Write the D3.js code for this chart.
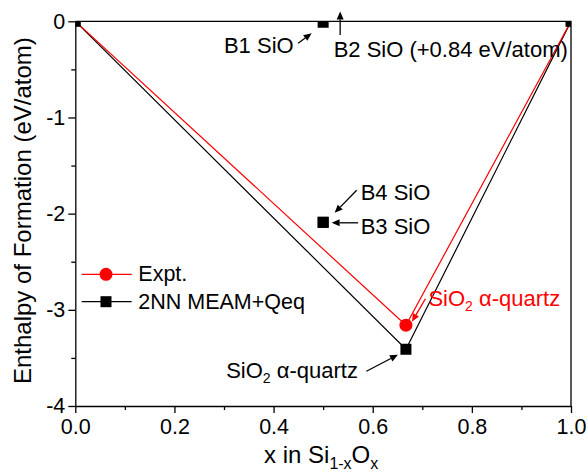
<!DOCTYPE html>
<html>
<head>
<meta charset="utf-8">
<script src="https://cdn.jsdelivr.net/npm/d3@7"></script>
<style>
  html, body { margin: 0; padding: 0; background: #fff; }
  svg { display: block; font-family: "Liberation Sans", Arial, sans-serif; }
</style>
</head>
<body>
<svg id="chart" width="588" height="474"></svg>
<script>
// ---------- data ----------
const seriesNames = ["Expt.", "2NN MEAM+Qeq"];
const exptX = [0, 0.667, 1];
const exptY = [0, -3.16, 0];
const meamX = [0, 0.667, 1];
const meamY = [0, -3.41, 0];
const phaseNames = ["B1 SiO", "B3 SiO", "B4 SiO"];
const phaseX = [0.5, 0.5, 0.5];
const phaseY = [-0.01, -2.09, -2.09];
const b2Label = "B2 SiO (+0.84 eV/atom)";
const xTicks = [0, 0.2, 0.4, 0.6, 0.8, 1.0];
const xMinor = [0.1, 0.3, 0.5, 0.7, 0.9];
const yTicks = [0, -1, -2, -3, -4];
const yMinor = [-0.5, -1.5, -2.5, -3.5];

// ---------- layout ----------
const L = 75.3, R = 571, T = 21.3, B = 406;
const svg = d3.select("#chart");
const x = d3.scaleLinear().domain([0, 1]).range([L, R]);
const y = d3.scaleLinear().domain([-4, 0]).range([B, T]);
const RED = "#ff0000";
const FS = 21.5;
const AFS = 22;

svg.append("defs").append("clipPath").attr("id", "clip")
  .append("rect").attr("x", L).attr("y", T).attr("width", R - L).attr("height", B - T);

// frame (top + right)
svg.append("path")
  .attr("d", `M${L},${T}H${R}V${B}`)
  .attr("fill", "none").attr("stroke", "#000").attr("stroke-width", 1.3);

// axes
function styleAxis(g) {
  g.selectAll("path").attr("stroke", "#000").attr("stroke-width", 1.3);
  g.selectAll("line").attr("stroke", "#000").attr("stroke-width", 1.3);
  g.selectAll("text").attr("font-size", FS).attr("fill", "#000")
    .attr("font-family", "'Liberation Sans', Arial, sans-serif");
}
const gx = svg.append("g").attr("transform", `translate(0,${B})`)
  .call(d3.axisBottom(x).tickValues(xTicks).tickFormat(d3.format(".1f"))
        .tickSize(7).tickSizeOuter(0).tickPadding(6));
styleAxis(gx);
const gxm = svg.append("g").attr("transform", `translate(0,${B})`)
  .call(d3.axisBottom(x).tickValues(xMinor).tickFormat("").tickSize(4).tickSizeOuter(0));
styleAxis(gxm); gxm.select("path").remove();

const gy = svg.append("g").attr("transform", `translate(${L},0)`)
  .call(d3.axisLeft(y).tickValues(yTicks).tickFormat(d => String(d))
        .tickSize(7).tickSizeOuter(0).tickPadding(3));
styleAxis(gy);
const gym = svg.append("g").attr("transform", `translate(${L},0)`)
  .call(d3.axisLeft(y).tickValues(yMinor).tickFormat("").tickSize(4).tickSizeOuter(0));
styleAxis(gym); gym.select("path").remove();

// axis titles
const xt = svg.append("text").attr("x", (L + R) / 2 - 2).attr("y", 463)
  .attr("text-anchor", "middle").attr("font-size", 24).attr("fill", "#000");
xt.append("tspan").text("x in Si");
xt.append("tspan").attr("font-size", 16).attr("dy", 6).text("1-x");
xt.append("tspan").attr("dy", -6).text("O");
xt.append("tspan").attr("font-size", 16).attr("dy", 6).text("x");

svg.append("text")
  .attr("transform", `translate(31,${(T + B) / 2 - 3}) rotate(-90)`)
  .attr("text-anchor", "middle").attr("font-size", 24).attr("fill", "#000")
  .text("Enthalpy of Formation (eV/atom)");

// ---------- lines ----------
const plot = svg.append("g").attr("clip-path", "url(#clip)");
const line = d3.line().x(d => x(d[0])).y(d => y(d[1]));
const meamPts = meamX.map((v, i) => [v, meamY[i]]);
const exptPts = exptX.map((v, i) => [v, exptY[i]]);
plot.append("path").datum(meamPts).attr("d", line)
  .attr("fill", "none").attr("stroke", "#000").attr("stroke-width", 1.2);
plot.append("path").datum(exptPts).attr("d", line)
  .attr("fill", "none").attr("stroke", RED).attr("stroke-width", 1.2);

// markers
const SQ = 11;
plot.selectAll("rect.meam").data(meamPts).enter().append("rect")
  .attr("x", d => x(d[0]) - SQ / 2).attr("y", d => y(d[1]) - SQ / 2)
  .attr("width", SQ).attr("height", SQ).attr("fill", "#000");
plot.selectAll("rect.phase").data(phaseX.map((v, i) => [v, phaseY[i]])).enter().append("rect")
  .attr("x", d => x(d[0]) - SQ / 2).attr("y", d => y(d[1]) - SQ / 2)
  .attr("width", SQ).attr("height", SQ).attr("fill", "#000");
plot.append("circle").attr("cx", x(exptX[1])).attr("cy", y(exptY[1])).attr("r", 6.5).attr("fill", RED);

// ---------- annotations ----------
function arrow(x1, y1, x2, y2, color) {
  const a = Math.atan2(y2 - y1, x2 - x1);
  const len = 8, hw = 3.5;
  const bx = x2 - len * Math.cos(a), by = y2 - len * Math.sin(a);
  svg.append("line").attr("x1", x1).attr("y1", y1).attr("x2", bx).attr("y2", by)
    .attr("stroke", color).attr("stroke-width", 1.3);
  svg.append("path").attr("d",
    `M${x2},${y2}L${bx + hw * Math.sin(a)},${by - hw * Math.cos(a)}L${bx - hw * Math.sin(a)},${by + hw * Math.cos(a)}Z`)
    .attr("fill", color);
}
function label(tx, ty, txt, anchor, color) {
  return svg.append("text").attr("x", tx).attr("y", ty).attr("text-anchor", anchor || "start")
    .attr("font-size", AFS).attr("fill", color || "#000").text(txt);
}

// B1
const b1x = x(phaseX[0]), b1y = y(phaseY[0]);
label(b1x - 29.5, 53, phaseNames[0], "end");
arrow(b1x - 25, b1y + 21, b1x - 11.5, b1y + 11, "#000");
// B2 (off the chart, above)
arrow(b1x + 17, 35, b1x + 17, 11.5, "#000");
label(b1x + 10.5, 57, b2Label);
// B3 / B4
const b3x = x(phaseX[1]), b3y = y(phaseY[1]);
arrow(b3x + 35, b3y + 0.5, b3x + 8.5, b3y + 0.5, "#000");
label(b3x + 37.5, 233.5, phaseNames[1]);
arrow(b3x + 33.5, b3y - 32, b3x + 11.5, b3y - 9.5, "#000");
label(b3x + 37.5, 199.5, phaseNames[2]);

// SiO2 alpha-quartz labels
function quartzLabel(tx, ty, anchor, color) {
  const t = svg.append("text").attr("x", tx).attr("y", ty).attr("text-anchor", anchor)
    .attr("font-size", AFS).attr("fill", color);
  t.append("tspan").text("SiO");
  t.append("tspan").attr("font-size", 14).attr("dy", 5).text("2");
  t.append("tspan").attr("dy", -5).text(" \u03B1-quartz");
}
const mx = x(meamX[1]), my = y(meamY[1]);
quartzLabel(mx - 48, 378, "end", "#000");
arrow(mx - 39.5, my + 22, mx - 8, my + 5.5, "#000");
const ex = x(exptX[1]), ey = y(exptY[1]);
quartzLabel(ex + 22.5, 306, "start", RED);
arrow(ex + 19.5, ey - 26.5, ex + 6, ey - 3.5, RED);

// ---------- legend ----------
const lg = svg.append("g");
const legY = [274.3, 301.7];
const legColors = [RED, "#000"];
seriesNames.forEach((nm, i) => {
  lg.append("line").attr("x1", 81.7).attr("x2", 131.7).attr("y1", legY[i]).attr("y2", legY[i])
    .attr("stroke", legColors[i]).attr("stroke-width", 1.2);
  if (i === 0) {
    lg.append("circle").attr("cx", 106).attr("cy", legY[i]).attr("r", 6.5).attr("fill", RED);
  } else {
    lg.append("rect").attr("x", 106 - SQ / 2).attr("y", legY[i] - SQ / 2)
      .attr("width", SQ).attr("height", SQ).attr("fill", "#000");
  }
  lg.append("text").attr("x", 138.3).attr("y", legY[i] + 7).attr("font-size", FS)
    .attr("fill", "#000").text(nm);
});
</script>
</body>
</html>
